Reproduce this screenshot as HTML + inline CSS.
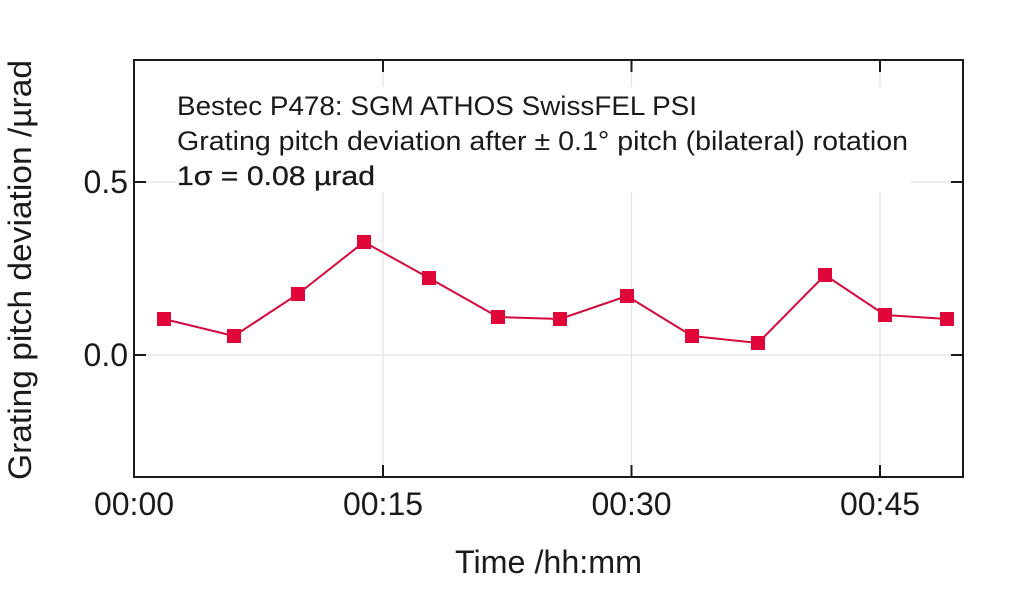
<!DOCTYPE html>
<html>
<head>
<meta charset="utf-8">
<style>
  html, body { margin: 0; padding: 0; background: #ffffff; }
  svg { display: block; }
  text { font-family: "Liberation Sans", "DejaVu Sans", sans-serif; fill: #1a1a1a; }
</style>
</head>
<body>
<svg width="1024" height="589" viewBox="0 0 1024 589" xmlns="http://www.w3.org/2000/svg">
  <rect x="0" y="0" width="1024" height="589" fill="#ffffff"/>

  <!-- gridlines -->
  <g stroke="#e3e3e3" stroke-width="1.2" fill="none">
    <line x1="383" y1="60" x2="383" y2="477"/>
    <line x1="631.5" y1="60" x2="631.5" y2="477"/>
    <line x1="880" y1="60" x2="880" y2="477"/>
    <line x1="134" y1="182" x2="963" y2="182"/>
    <line x1="134" y1="355" x2="963" y2="355"/>
  </g>

  <!-- annotation box (white background hides grid) -->
  <rect x="176" y="87" width="734" height="105" fill="#ffffff"/>

  <!-- frame -->
  <rect x="134" y="60" width="829" height="417" fill="none" stroke="#1a1a1a" stroke-width="2"/>

  <!-- ticks (inward) -->
  <g stroke="#1a1a1a" stroke-width="2">
    <line x1="383" y1="477" x2="383" y2="465"/>
    <line x1="631.5" y1="477" x2="631.5" y2="465"/>
    <line x1="880" y1="477" x2="880" y2="465"/>
    <line x1="383" y1="60" x2="383" y2="72"/>
    <line x1="631.5" y1="60" x2="631.5" y2="72"/>
    <line x1="880" y1="60" x2="880" y2="72"/>
    <line x1="134" y1="182" x2="146" y2="182"/>
    <line x1="134" y1="355" x2="146" y2="355"/>
    <line x1="963" y1="182" x2="951" y2="182"/>
    <line x1="963" y1="355" x2="951" y2="355"/>
  </g>

  <!-- data line -->
  <polyline fill="none" stroke="#d40a3c" stroke-width="2"
    points="164,319 234,336 298,294 364,242 429,278 498,317 560,319 627,296 692,336 758,343 825,275 885,315 947,319"/>

  <!-- markers -->
  <g fill="#e0063a">
    <rect x="157" y="312" width="14" height="14"/>
    <rect x="227" y="329" width="14" height="14"/>
    <rect x="291" y="287" width="14" height="14"/>
    <rect x="357" y="235" width="14" height="14"/>
    <rect x="422" y="271" width="14" height="14"/>
    <rect x="491" y="310" width="14" height="14"/>
    <rect x="553" y="312" width="14" height="14"/>
    <rect x="620" y="289" width="14" height="14"/>
    <rect x="685" y="329" width="14" height="14"/>
    <rect x="751" y="336" width="14" height="14"/>
    <rect x="818" y="268" width="14" height="14"/>
    <rect x="878" y="308" width="14" height="14"/>
    <rect x="940" y="312" width="14" height="14"/>
  </g>

  <!-- annotation text -->
  <text x="177" y="115" font-size="27" textLength="520" lengthAdjust="spacingAndGlyphs">Bestec P478: SGM ATHOS SwissFEL PSI</text>
  <text x="177" y="150" font-size="27" textLength="731" lengthAdjust="spacingAndGlyphs">Grating pitch deviation after ± 0.1° pitch (bilateral) rotation</text>
  <text x="177" y="185" font-size="27" stroke="#1a1a1a" stroke-width="0.3" textLength="198" lengthAdjust="spacingAndGlyphs">1σ = 0.08 µrad</text>

  <!-- y tick labels -->
  <text x="128" y="193" font-size="32" text-anchor="end">0.5</text>
  <text x="128" y="366" font-size="32" text-anchor="end">0.0</text>

  <!-- x tick labels -->
  <text x="134" y="515" font-size="32" text-anchor="middle">00:00</text>
  <text x="383" y="515" font-size="32" text-anchor="middle">00:15</text>
  <text x="631.5" y="515" font-size="32" text-anchor="middle">00:30</text>
  <text x="880" y="515" font-size="32" text-anchor="middle">00:45</text>

  <!-- axis labels -->
  <text x="548.5" y="573" font-size="32" text-anchor="middle" textLength="187" lengthAdjust="spacingAndGlyphs">Time /hh:mm</text>
  <text transform="translate(31,270) rotate(-90)" x="0" y="0" font-size="32" text-anchor="middle" textLength="420" lengthAdjust="spacingAndGlyphs">Grating pitch deviation /µrad</text>
</svg>
</body>
</html>
